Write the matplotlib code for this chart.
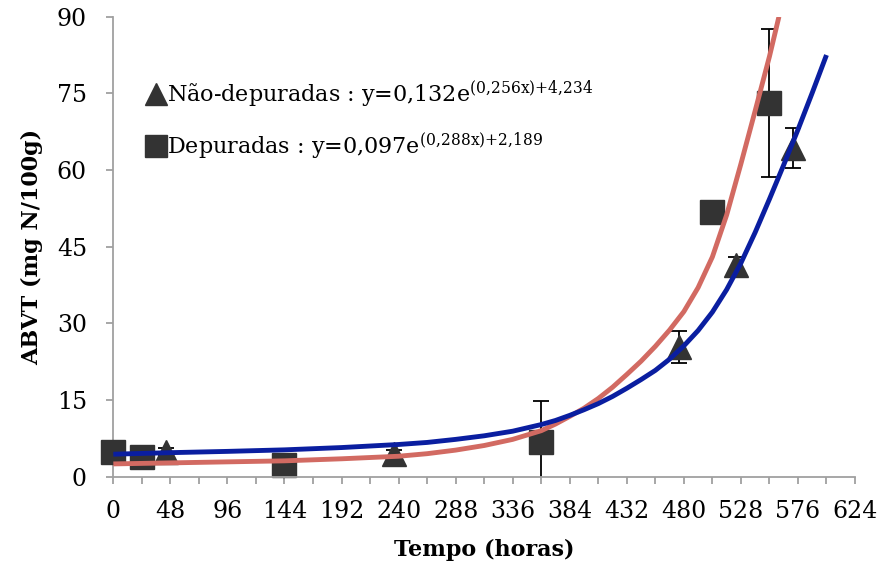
import numpy as np
import matplotlib
matplotlib.use('Agg')
from matplotlib import pyplot as plt
from matplotlib.ticker import MultipleLocator

plt.rcParams['font.family'] = ['DejaVu Serif']
plt.rcParams['mathtext.fontset'] = 'custom'
plt.rcParams['mathtext.rm'] = 'DejaVu Serif'

# Measured points (hours, ABVT)
dep_x = [0, 24, 144, 360, 504, 552]
dep_y = [4.9, 3.9, 2.3, 6.7, 51.7, 73.1]
dep_err = [0, 0, 0, 8.2, 0, 14.5]

nao_x = [44, 236, 476, 524, 572]
nao_y = [4.8, 4.4, 25.4, 41.4, 64.3]
nao_err = [0.8, 0.8, 3.2, 1.5, 3.9]

# Trend lines
nao_fit_x = [0, 48, 96, 144, 192, 240, 264, 288, 312, 336, 360, 372, 384, 396, 408, 420, 432, 444,
             456, 468, 480, 492, 504, 516, 528, 540, 552, 564, 576, 588, 600]
nao_fit_y = [4.4, 4.7, 4.95, 5.25, 5.7, 6.3, 6.7, 7.3, 8.0, 8.9, 10.2, 11.0, 12.0, 13.1, 14.3, 15.7, 17.3, 19.0,
             20.8, 23.0, 25.6, 28.6, 32.2, 36.6, 41.8, 47.8, 54.3, 61.0, 67.9, 75.1, 82.5]

dep_fit_x = [0, 48, 96, 144, 192, 240, 264, 288, 312, 336, 360, 372, 384, 396, 408, 420, 432, 444,
             456, 468, 480, 492, 504, 516, 528, 540, 552, 560]
dep_fit_y = [2.5, 2.7, 2.9, 3.1, 3.5, 4.0, 4.5, 5.2, 6.1, 7.3, 9.0, 10.3, 11.8, 13.4, 15.3, 17.5, 20.0, 22.6,
             25.5, 28.7, 32.3, 37.0, 43.0, 51.2, 61.2, 71.6, 82.2, 90.0]

lbl_nao = r'Não-depuradas : y=0,132e$^{\mathregular{(0{,}256x){+}4{,}234}}$'
lbl_dep = r'Depuradas : y=0,097e$^{\mathregular{(0{,}288x){+}2{,}189}}$'

fig = plt.figure(figsize=(8.8, 5.66), dpi=100)
ax = fig.add_axes([0.1288, 0.1578, 0.8428, 0.8127])

ax.errorbar(dep_x, dep_y, yerr=dep_err, fmt='none', ecolor='black', elinewidth=1.3, capsize=6, capthick=1.3, zorder=2)
ax.errorbar(nao_x, nao_y, yerr=nao_err, fmt='none', ecolor='black', elinewidth=1.3, capsize=6, capthick=1.3, zorder=2)
h_nao, = ax.plot(nao_x, nao_y, '^', color='#333333', markersize=17, linestyle='none', zorder=3, clip_on=False)
h_dep, = ax.plot(dep_x, dep_y, 's', color='#333333', markersize=17, linestyle='none', zorder=3, clip_on=False)

ax.plot(dep_fit_x, dep_fit_y, color='#d26a62', linewidth=3.5, solid_capstyle='butt', zorder=4)
ax.plot(nao_fit_x, nao_fit_y, color='#0a1ea0', linewidth=3.5, solid_capstyle='butt', zorder=5)

ax.set_xlim(0, 624)
ax.set_ylim(0, 90)
ax.xaxis.set_major_locator(MultipleLocator(48))
ax.xaxis.set_minor_locator(MultipleLocator(24))
ax.yaxis.set_major_locator(MultipleLocator(15))

for s in ['top', 'right']:
    ax.spines[s].set_visible(False)
for s in ['left', 'bottom']:
    ax.spines[s].set_color('#a0a0a0')
    ax.spines[s].set_linewidth(1.3)
ax.spines['bottom'].set_zorder(6)

ax.tick_params(which='both', direction='out', color='#a0a0a0', width=1.3, length=5)
ax.tick_params(axis='x', which='major', labelsize=17, pad=12)
ax.tick_params(axis='y', which='major', labelsize=17, pad=14)

ax.set_xlabel('Tempo (horas)', fontsize=16, fontweight='bold', labelpad=11)
ax.set_ylabel('ABVT (mg N/100g)', fontsize=16, fontweight='bold', labelpad=10)

ax.legend([h_nao, h_dep], [lbl_nao, lbl_dep], loc='upper left', bbox_to_anchor=(0.015, 0.91),
          frameon=False, fontsize=16, handletextpad=0.0, labelspacing=0.95, markerscale=0.95,
          handlelength=1.0)

fig.savefig('out.png', dpi=100)
